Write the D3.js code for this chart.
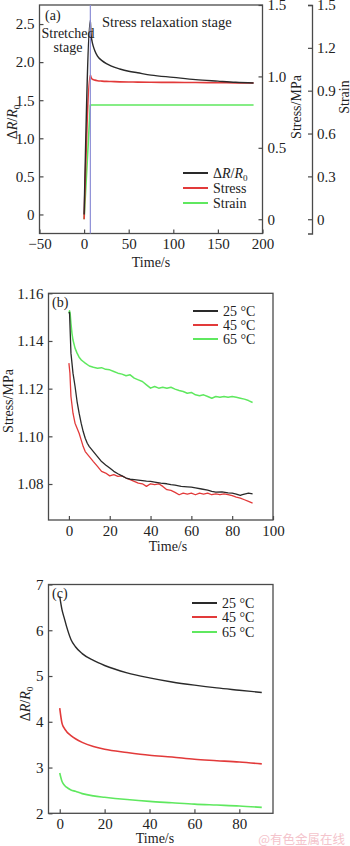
<!DOCTYPE html>
<html>
<head>
<meta charset="utf-8">
<script src="https://cdn.jsdelivr.net/npm/d3@7/dist/d3.min.js"></script>
<style>
  html, body { margin: 0; padding: 0; background: #fff; }
  svg { display: block; }
  svg text { font-family: "Liberation Serif", "Times New Roman", serif; fill: #222; }
</style>
</head>
<body>
<svg id="chart" width="350" height="846"></svg>
<script>
// ---------- Panel (a): stretching + stress relaxation ----------
const aTime   = [0, 7, 7.5, 8, 9, 10, 12, 15, 20, 25, 30, 40, 50, 60, 75, 100, 125, 150, 170, 190];
const aDeltaR = [0, 2.55, 2.42, 2.34, 2.27, 2.22, 2.15, 2.08, 2.02, 1.98, 1.95, 1.91, 1.88, 1.86, 1.83, 1.80, 1.77, 1.75, 1.735, 1.725];
const aStress = [0, 1.01, 1.0, 0.99, 0.982, 0.978, 0.974, 0.97, 0.967, 0.965, 0.964, 0.962, 0.961, 0.96, 0.959, 0.958, 0.957, 0.956, 0.955, 0.954];
const aStrainTime = [0, 7, 190];
const aStrain = [0, 0.80, 0.80];
const aHoldTime = 7;
const aXTicks = [-50, 0, 50, 100, 150, 200];
const aLeftTicks = [0, 0.5, 1.0, 1.5, 2.0, 2.5];
const aStressTicks = [0, 0.5, 1.0, 1.5];
const aStrainTicks = [0, 0.3, 0.6, 0.9, 1.2, 1.5];
const aLegend = ["ΔR/R0", "Stress", "Strain"];

// ---------- Panel (b): stress relaxation at three temperatures ----------
const bTemps = ["25 °C", "45 °C", "65 °C"];
const bTime25 = [0, 0.3, 1, 2, 3, 4, 5, 6, 7, 8, 9, 10, 12, 14, 16, 18, 20, 22, 24, 26, 28, 30, 32, 35, 38, 40, 42, 45, 48, 50, 52, 55, 58, 60, 62, 65, 68, 70, 72, 75, 78, 80, 82, 84, 85, 86, 88, 90];
const bStress25 = [1.1516, 1.152, 1.1349, 1.1265, 1.121, 1.1146, 1.1097, 1.1055, 1.102, 1.0992, 1.0971, 1.0957, 1.0936, 1.0915, 1.0894, 1.088, 1.0867, 1.0853, 1.0843, 1.0834, 1.0825, 1.082, 1.0818, 1.0815, 1.0812, 1.0811, 1.0808, 1.0804, 1.0801, 1.0797, 1.0795, 1.079, 1.0788, 1.0787, 1.0784, 1.0779, 1.0774, 1.0769, 1.0766, 1.0767, 1.0763, 1.0762, 1.0758, 1.0752, 1.0755, 1.0758, 1.0762, 1.0759];
const bTime45 = [0, 0.5, 1, 2, 3, 4, 5, 6, 7, 8, 10, 12, 14, 16, 18, 20, 22, 24, 26, 28, 30, 32, 34, 36, 38, 40, 42, 44, 46, 48, 50, 52, 54, 56, 58, 60, 62, 64, 66, 68, 70, 72, 74, 76, 78, 80, 82, 84, 86, 88, 90];
const bStress45 = [1.1307, 1.1265, 1.1167, 1.1097, 1.1055, 1.1034, 1.1013, 1.0985, 1.0957, 1.0936, 1.0915, 1.0894, 1.0874, 1.0853, 1.0846, 1.0834, 1.0839, 1.0832, 1.0834, 1.0825, 1.0818, 1.0811, 1.0804, 1.0801, 1.079, 1.0801, 1.0797, 1.0801, 1.079, 1.0776, 1.0773, 1.0765, 1.0755, 1.0762, 1.0758, 1.0762, 1.0755, 1.0762, 1.0758, 1.0762, 1.0755, 1.0759, 1.0755, 1.0759, 1.0755, 1.0751, 1.0745, 1.0741, 1.0734, 1.0727, 1.072];
const bTime65 = [0, 0.3, 0.6, 1, 1.5, 2, 3, 4, 5, 6, 7, 8, 10, 12, 14, 16, 18, 20, 22, 24, 26, 28, 30, 32, 34, 36, 38, 40, 42, 44, 46, 48, 50, 52, 54, 56, 58, 60, 62, 64, 66, 68, 70, 72, 74, 76, 78, 80, 82, 84, 86, 88, 90];
const bStress65 = [1.1516, 1.1527, 1.1516, 1.1474, 1.1432, 1.1404, 1.137, 1.1349, 1.1332, 1.1321, 1.1314, 1.1307, 1.1295, 1.129, 1.1286, 1.1288, 1.1281, 1.1279, 1.1272, 1.1265, 1.1261, 1.1254, 1.1258, 1.1244, 1.1237, 1.123, 1.1216, 1.1202, 1.1209, 1.1202, 1.1206, 1.1202, 1.1206, 1.1198, 1.1192, 1.1188, 1.1181, 1.1184, 1.1174, 1.117, 1.1174, 1.1167, 1.116, 1.1167, 1.1164, 1.1167, 1.1164, 1.1167, 1.1164, 1.116, 1.1156, 1.115, 1.1142];
const bXTicks = [0, 20, 40, 60, 80, 100];
const bYTicks = [1.08, 1.10, 1.12, 1.14, 1.16];

// ---------- Panel (c): resistance change at three temperatures ----------
const cTime = [0, 1, 2, 3, 5, 7, 10, 15, 20, 30, 40, 50, 60, 70, 80, 90];
const cDeltaR25 = [6.74, 6.45, 6.27, 6.09, 5.80, 5.64, 5.49, 5.34, 5.23, 5.07, 4.96, 4.87, 4.80, 4.74, 4.69, 4.64];
const cDeltaR45 = [4.30, 3.97, 3.86, 3.79, 3.70, 3.63, 3.55, 3.46, 3.40, 3.33, 3.27, 3.23, 3.18, 3.15, 3.12, 3.08];
const cDeltaR65 = [2.88, 2.70, 2.62, 2.57, 2.51, 2.48, 2.43, 2.38, 2.35, 2.30, 2.26, 2.23, 2.20, 2.18, 2.16, 2.13];
const cXTicks = [0, 20, 40, 60, 80];
const cYTicks = [2, 3, 4, 5, 6, 7];

const SERIF = '"Liberation Serif", "Times New Roman", serif';
const COLORS = { black: "#2a2a2a", red: "#e23a3a", green: "#5fe85f", blue: "#8c8ed6", axis: "#4a4a4a" };
const svg = d3.select("#chart");
const zip = (xs, ys) => xs.map((x, i) => [x, ys[i]]);
const fmt = f => d => d === 0 ? "0" : d3.format(f)(d);

function styleTicks(g) {
  g.attr("font-family", SERIF).attr("font-size", 15);
  g.selectAll(".tick line").attr("stroke", COLORS.axis).attr("stroke-width", 1.2);
  g.selectAll(".tick text").attr("fill", "#222");
}
function styleAxis(g) {
  g.select(".domain").remove();
  styleTicks(g);
}

function frame(box) {
  svg.append("rect").attr("x", box.x0).attr("y", box.y0)
    .attr("width", box.x1 - box.x0).attr("height", box.y1 - box.y0)
    .attr("fill", "none").attr("stroke", COLORS.axis).attr("stroke-width", 1.3);
}

function plotLine(data, x, y, color, width, curve) {
  svg.append("path").datum(data)
    .attr("fill", "none").attr("stroke", color).attr("stroke-width", width)
    .attr("stroke-linejoin", "round")
    .attr("d", d3.line().x(d => x(d[0])).y(d => y(d[1])).curve(curve || d3.curveLinear));
}

function ratioLabel(sel, size) {
  // ΔR/R0 with italic R and subscript 0
  sel.append("tspan").text("Δ");
  sel.append("tspan").attr("font-style", "italic").text("R");
  sel.append("tspan").text("/");
  sel.append("tspan").attr("font-style", "italic").text("R");
  sel.append("tspan").attr("font-size", size * 0.65).attr("dy", size * 0.2).text("0");
}

function legend(x, ys, labels, colors, isRatio) {
  labels.forEach((lab, i) => {
    svg.append("line").attr("x1", x).attr("x2", x + 25).attr("y1", ys[i]).attr("y2", ys[i])
      .attr("stroke", colors[i]).attr("stroke-width", 2);
    const t = svg.append("text").attr("x", x + 30).attr("y", ys[i] + 5).attr("font-size", 14);
    if (isRatio && isRatio[i]) ratioLabel(t, 14); else t.text(lab);
  });
}

// ===== Panel (a) =====
{
  const box = { x0: 39.5, x1: 262.5, y0: 5, y1: 233.5 };
  const x = d3.scaleLinear().domain([-50, 200]).range([box.x0, box.x1]);
  const yL = d3.scaleLinear().domain([-0.25, 2.75]).range([box.y1, box.y0]);
  const yR = d3.scaleLinear().domain([-0.1, 1.5]).range([box.y1, box.y0]);

  frame(box);
  svg.append("g").attr("transform", `translate(0,${box.y1})`)
    .call(d3.axisBottom(x).tickValues(aXTicks).tickSize(-4).tickPadding(5)).call(styleAxis);
  svg.append("g").attr("transform", `translate(${box.x0},0)`)
    .call(d3.axisLeft(yL).tickValues(aLeftTicks).tickFormat(fmt(".1f")).tickSize(-4).tickPadding(5)).call(styleAxis);
  svg.append("g").attr("transform", `translate(${box.x1},0)`)
    .call(d3.axisRight(yR).tickValues(aStressTicks).tickFormat(fmt(".1f")).tickSize(-4).tickPadding(5)).call(styleAxis);

  // separate strain axis
  const sAxis = svg.append("g").attr("transform", "translate(312,0)")
    .call(d3.axisRight(yR).tickValues(aStrainTicks).tickFormat(fmt(".1f")).tickSizeInner(-4).tickSizeOuter(-4).tickPadding(5));
  sAxis.select(".domain").attr("stroke", COLORS.axis).attr("stroke-width", 1.3);
  styleTicks(sAxis);

  // data
  plotLine(zip(aStrainTime, aStrain), x, yR, COLORS.green, 1.6);
  plotLine(zip(aTime, aStress), x, yR, COLORS.red, 1.6, d3.curveMonotoneX);
  plotLine(zip(aTime, aDeltaR), x, yL, COLORS.black, 1.4, d3.curveMonotoneX);
  svg.append("line").attr("x1", x(aHoldTime)).attr("x2", x(aHoldTime))
    .attr("y1", box.y0).attr("y2", box.y1).attr("stroke", COLORS.blue).attr("stroke-width", 1.2);

  // annotations
  svg.append("text").attr("x", 45).attr("y", 20).attr("font-size", 14).text("(a)");
  svg.append("text").attr("x", 102).attr("y", 27).attr("font-size", 14.5).text("Stress relaxation stage");
  svg.append("text").attr("x", 68).attr("y", 38).attr("font-size", 14).attr("text-anchor", "middle").text("Stretched");
  svg.append("text").attr("x", 68).attr("y", 52).attr("font-size", 14).attr("text-anchor", "middle").text("stage");

  legend(183, [173, 188, 203], aLegend, [COLORS.black, COLORS.red, COLORS.green], [true, false, false]);

  // axis titles
  svg.append("text").attr("x", 151).attr("y", 267).attr("font-size", 14).attr("text-anchor", "middle").text("Time/s");
  const yl = svg.append("text").attr("transform", "translate(17,122) rotate(-90)")
    .attr("font-size", 14).attr("text-anchor", "middle");
  ratioLabel(yl, 14);
  svg.append("text").attr("transform", "translate(301,107) rotate(-90)")
    .attr("font-size", 14).attr("text-anchor", "middle").text("Stress/MPa");
  svg.append("text").attr("transform", "translate(349,97) rotate(-90)")
    .attr("font-size", 14).attr("text-anchor", "middle").text("Strain");
}

// ===== Panel (b) =====
{
  const box = { x0: 48.5, x1: 273, y0: 293.3, y1: 520 };
  const x = d3.scaleLinear().domain([-10, 100]).range([box.x0, box.x1]);
  const y = d3.scaleLinear().domain([1.0649, 1.16]).range([box.y1, box.y0]);

  frame(box);
  svg.append("g").attr("transform", `translate(0,${box.y1})`)
    .call(d3.axisBottom(x).tickValues(bXTicks).tickSize(-4).tickPadding(5)).call(styleAxis);
  svg.append("g").attr("transform", `translate(${box.x0},0)`)
    .call(d3.axisLeft(y).tickValues(bYTicks).tickFormat(d3.format(".2f")).tickSize(-4).tickPadding(5)).call(styleAxis);

  plotLine(zip(bTime65, bStress65), x, y, COLORS.green, 1.5);
  plotLine(zip(bTime45, bStress45), x, y, COLORS.red, 1.3);
  plotLine(zip(bTime25, bStress25), x, y, COLORS.black, 1.3);

  svg.append("text").attr("x", 52).attr("y", 307).attr("font-size", 14).text("(b)");
  legend(193, [311, 325, 339], bTemps, [COLORS.black, COLORS.red, COLORS.green]);

  svg.append("text").attr("x", 168).attr("y", 551).attr("font-size", 14).attr("text-anchor", "middle").text("Time/s");
  svg.append("text").attr("transform", "translate(13,401) rotate(-90)")
    .attr("font-size", 14).attr("text-anchor", "middle").text("Stress/MPa");
}

// ===== Panel (c) =====
{
  const box = { x0: 48.5, x1: 273, y0: 584.5, y1: 813.3 };
  const x = d3.scaleLinear().domain([-5, 95]).range([box.x0, box.x1]);
  const y = d3.scaleLinear().domain([2, 7]).range([box.y1, box.y0]);

  frame(box);
  svg.append("g").attr("transform", `translate(0,${box.y1})`)
    .call(d3.axisBottom(x).tickValues(cXTicks).tickFormat(d3.format("d")).tickSize(-4).tickPadding(5)).call(styleAxis);
  svg.append("g").attr("transform", `translate(${box.x0},0)`)
    .call(d3.axisLeft(y).tickValues(cYTicks).tickFormat(d3.format("d")).tickSize(-4).tickPadding(5)).call(styleAxis);

  plotLine(zip(cTime, cDeltaR65), x, y, COLORS.green, 1.6, d3.curveMonotoneX);
  plotLine(zip(cTime, cDeltaR45), x, y, COLORS.red, 1.6, d3.curveMonotoneX);
  plotLine(zip(cTime, cDeltaR25), x, y, COLORS.black, 1.4, d3.curveMonotoneX);

  svg.append("text").attr("x", 52).attr("y", 598).attr("font-size", 14).text("(c)");
  legend(192, [603, 617, 632], bTemps, [COLORS.black, COLORS.red, COLORS.green]);

  svg.append("text").attr("x", 155).attr("y", 843).attr("font-size", 14).attr("text-anchor", "middle").text("Time/s");
  const yl = svg.append("text").attr("transform", "translate(30,704) rotate(-90)")
    .attr("font-size", 14).attr("text-anchor", "middle");
  ratioLabel(yl, 14);

  svg.append("text").attr("x", 345).attr("y", 844).attr("font-size", 12.5).attr("text-anchor", "end")
    .style("font-family", '"Noto Sans CJK SC", sans-serif').style("fill", "#f4c4cc").text("@有色金属在线");
}
</script>
</body>
</html>
